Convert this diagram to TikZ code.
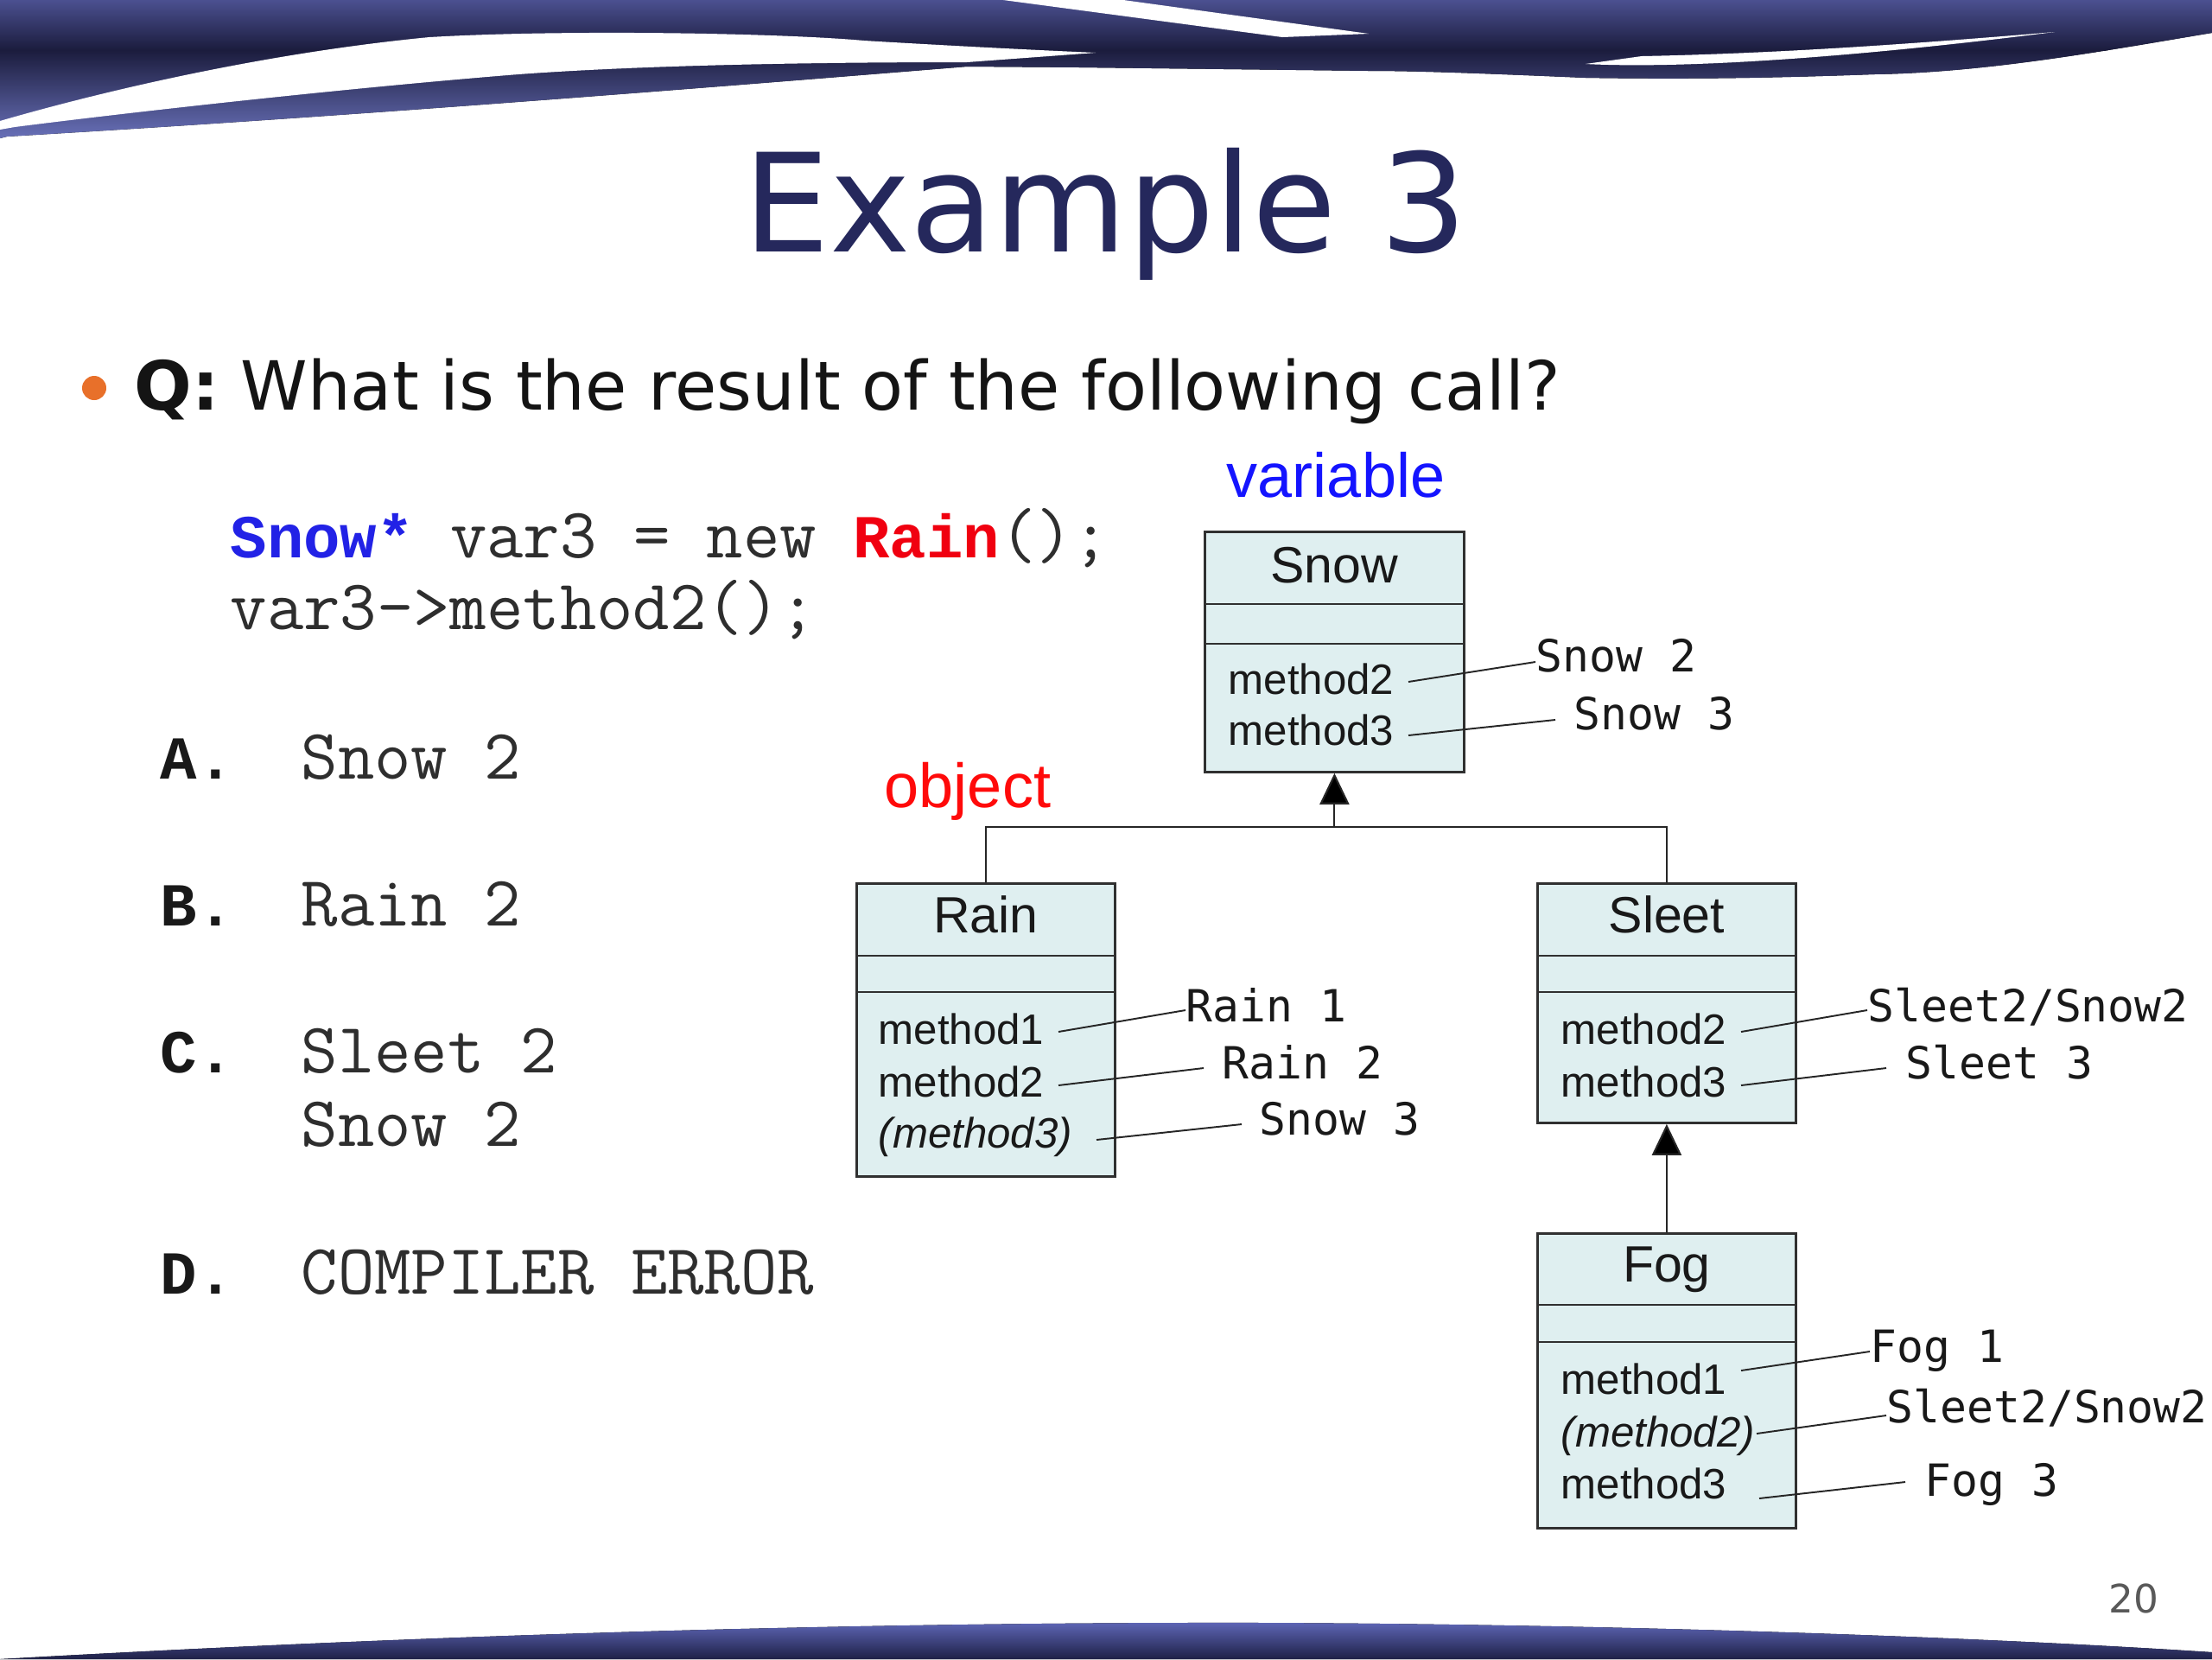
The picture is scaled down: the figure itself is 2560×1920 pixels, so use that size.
\documentclass[tikz,border=0pt]{standalone}
\usepackage{fontspec}
\setmainfont{Liberation Sans}
\newfontfamily\dejavu{DejaVu Sans}
\newfontfamily\dmono{DejaVu Sans Mono}
\newfontfamily\cour{Liberation Mono}
\usetikzlibrary{arrows.meta,calc}
\definecolor{navy}{HTML}{25285C}
\definecolor{bandtop}{HTML}{4B5090}
\definecolor{banddark}{HTML}{1B1C3D}
\definecolor{bandlow}{HTML}{6A72BB}
\definecolor{domelight}{HTML}{5E66B6}
\definecolor{domedark}{HTML}{1E2046}
\definecolor{boxfill}{HTML}{DFEFF0}
\definecolor{boxborder}{HTML}{303030}
\definecolor{bulletorange}{HTML}{E8702A}
\definecolor{snowblue}{HTML}{2222E6}
\definecolor{rainred}{HTML}{F00010}
\definecolor{varblue}{HTML}{1414FF}
\definecolor{objred}{HTML}{FF0A0A}
\definecolor{codegray}{HTML}{2E2E2E}
\newcommand{\cbold}[1]{{\cour\bfseries\fontsize{20.1}{24}\selectfont #1}}
\begin{document}
\begin{tikzpicture}[x=0.01cm,y=-0.01cm,
  umlbox/.style={draw=boxborder, fill=boxfill, line width=0.75pt, inner sep=0pt, anchor=north west, minimum width=2.99cm},
  divl/.style={draw=boxborder, line width=0.75pt},
  clsname/.style={font=\fontsize{16.8}{20}\selectfont, anchor=base, inner sep=0pt, text=black!90},
  meth/.style={font=\fontsize{14}{17}\selectfont, anchor=base west, inner sep=0pt, text=black!90},
  lab/.style={font=\dmono\fontsize{14.6}{17}\selectfont, anchor=base west, inner sep=0pt, text=black!90},
  lead/.style={draw=black!85, line width=0.55pt},
  inh/.style={draw=black!85, line width=0.6pt},
  inharrow/.style={inh, -{Triangle[width=0.34cm,length=0.36cm,fill=black]}},
  code/.style={font=\ttfamily\fontsize{23.4}{28}\selectfont, anchor=base west, inner sep=0pt, text=codegray},
  ans/.style={font=\ttfamily\fontsize{23.4}{28}\selectfont, anchor=base west, inner sep=0pt, text=codegray},
  ansl/.style={font=\cour\bfseries\fontsize{20.1}{24}\selectfont, anchor=base west, inner sep=0pt, text=black!90}
]
\useasboundingbox (0,0) rectangle (2560,1920);
\fill[white] (0,0) rectangle (2560,1920);

% ---- top banner ----
\begin{scope}
  \clip (0,0) -- (2560,0) -- (2560,38)
    .. controls (2440,58) and (2300,84) .. (2169,86)
    .. controls (2060,90) and (1960,92) .. (1835,90)
    .. controls (1740,86) and (1650,82) .. (1584,82)
    -- (1250,78) -- (1119,77)
    .. controls (800,103) and (400,135) .. (8,158)
    -- (0,160) -- cycle;
  \fill[top color=bandtop, bottom color=banddark] (0,0) rectangle (2560,58);
  \fill[top color=banddark, bottom color=bandlow] (0,58) rectangle (2560,162);
\end{scope}
\fill[white] (0,140) .. controls (110,108) and (300,62) .. (497,43)
  .. controls (650,34) and (900,38) .. (1000,47)
  .. controls (1100,53) and (1200,58) .. (1268,61)
  -- (1119,72)
  .. controls (950,72) and (750,75) .. (600,86)
  .. controls (400,102) and (150,130) .. (17,147)
  -- (0,150) -- cycle;
\fill[white] (1161,0) -- (1300,0) -- (1584,39) -- (1484,43) -- cycle;
\fill[white] (1835,74) .. controls (1950,80) and (2150,66) .. (2378,37)
  .. controls (2200,52) and (2050,62) .. (1900,65) -- cycle;

% ---- bottom banner ----
\fill[top color=domelight, bottom color=domedark]
  (0,1920) .. controls (600,1886) and (1100,1877) .. (1470,1878)
  .. controls (1900,1880) and (2300,1895) .. (2560,1912)
  -- (2560,1920) -- cycle;
\node[font=\dejavu\fontsize{12.9}{15}\selectfont, text=black!65, anchor=base, inner sep=0pt] (pagenum) at (2469,1866) {20};

% ---- title & question ----
\node[font=\dejavu\fontsize{45}{54}\selectfont, text=navy, anchor=base, inner sep=0pt] (title) at (1279,291) {Example 3};
\fill[bulletorange] (109,449) circle[radius=14];
\node[font=\dejavu\fontsize{22.3}{27}\selectfont, text=black!92, anchor=base west, inner sep=0pt] (question) at (155,474) {\textbf{Q:} What is the result of the following call?};

% ---- code ----
\node[code] (code1) at (266,645) {\textcolor{snowblue}{\cbold{Snow*}} var3 = new \textcolor{rainred}{\cbold{Rain}}();};
\node[code] (code2) at (266,728) {var3->method2();};

% ---- answers ----
\node[ansl] (la) at (185,901) {A.};
\node[ans] (ta) at (348,901) {Snow 2};
\node[ansl] (lb) at (185,1071) {B.};
\node[ans] (tb) at (348,1071) {Rain 2};
\node[ansl] (lc) at (185,1241) {C.};
\node[ans] (tc1) at (348,1241) {Sleet 2};
\node[ans] (tc2) at (348,1326) {Snow 2};
\node[ansl] (ld) at (185,1497) {D.};
\node[ans] (td) at (348,1497) {COMPILER ERROR};

% ---- variable / object ----
\node[font=\fontsize{20.5}{24}\selectfont, text=varblue, anchor=base, inner sep=0pt] (variable) at (1546,575) {variable};
\node[font=\fontsize{20.5}{24}\selectfont, text=objred, anchor=base, inner sep=0pt] (object) at (1120,934) {object};

% ---- Snow ----
\node[umlbox, minimum width=3cm, minimum height=2.78cm] (snow) at (1393,614) {};
\draw[divl] (snow.north west) ++(0,85) -- ++(300,0);
\draw[divl] (snow.north west) ++(0,131) -- ++(300,0);
\node[clsname] (snowname) at ([yshift=-0.6cm]snow.north) {Snow};
\node[meth] (snowm2) at (1421,803) {method2};
\node[meth] (snowm3) at (1421,862) {method3};
\node[lab] (snowl2) at (1777,777) {Snow 2};
\node[lab] (snowl3) at (1821,844) {Snow 3};
\coordinate (snowm2e) at (1630,789);
\coordinate (snowm3e) at (1630,851);
\draw[lead] (snowm2e) -- ($(snowl2.base west)+(0,-11)$);
\draw[lead] (snowm3e) -- ($(snowl3.base west)+(-21,-11)$);

% ---- Rain ----
\node[umlbox, minimum height=3.39cm] (rain) at (990,1021) {};
\draw[divl] (rain.north west) ++(0,85) -- ++(299,0);
\draw[divl] (rain.north west) ++(0,127) -- ++(299,0);
\node[clsname] (rainname) at ([yshift=-0.58cm]rain.north) {Rain};
\node[meth] (rainm1) at (1016,1208) {method1};
\node[meth] (rainm2) at (1016,1269) {method2};
\node[meth] (rainm3) at (1016,1328) {\itshape (method3)};
\node[lab] (rainl1) at (1372,1182) {Rain 1};
\node[lab] (rainl2) at (1414,1248) {Rain 2};
\node[lab] (rainl3) at (1457,1313) {Snow 3};
\coordinate (rainm1e) at (1225,1194);
\coordinate (rainm2e) at (1225,1256);
\coordinate (rainm3e) at (1269,1319);
\draw[lead] (rainm1e) -- ($(rainl1.base west)+(0,-13)$);
\draw[lead] (rainm2e) -- ($(rainl2.base west)+(-21,-12)$);
\draw[lead] (rainm3e) -- ($(rainl3.base west)+(-20,-12)$);

% ---- Sleet ----
\node[umlbox, minimum height=2.77cm] (sleet) at (1778,1021) {};
\draw[divl] (sleet.north west) ++(0,85) -- ++(299,0);
\draw[divl] (sleet.north west) ++(0,127) -- ++(299,0);
\node[clsname] (sleetname) at ([yshift=-0.58cm]sleet.north) {Sleet};
\node[meth] (sleetm2) at (1806,1208) {method2};
\node[meth] (sleetm3) at (1806,1269) {method3};
\node[lab] (sleetl2) at (2161,1182) {Sleet2/Snow2};
\node[lab] (sleetl3) at (2205,1248) {Sleet 3};
\coordinate (sleetm2e) at (2015,1194);
\coordinate (sleetm3e) at (2015,1256);
\draw[lead] (sleetm2e) -- ($(sleetl2.base west)+(0,-13)$);
\draw[lead] (sleetm3e) -- ($(sleetl3.base west)+(-22,-12)$);

% ---- Fog ----
\node[umlbox, minimum height=3.41cm] (fog) at (1778,1426) {};
\draw[divl] (fog.north west) ++(0,84) -- ++(299,0);
\draw[divl] (fog.north west) ++(0,127) -- ++(299,0);
\node[clsname] (fogname) at ([yshift=-0.57cm]fog.north) {Fog};
\node[meth] (fogm1) at (1806,1613) {method1};
\node[meth] (fogm2) at (1806,1674) {\itshape (method2)};
\node[meth] (fogm3) at (1806,1734) {method3};
\node[lab] (fogl1) at (2164,1576) {Fog 1};
\node[lab] (fogl2) at (2183,1646) {Sleet2/Snow2};
\node[lab] (fogl3) at (2227,1731) {Fog 3};
\coordinate (fogm1e) at (2015,1586);
\coordinate (fogm2e) at (2033,1659);
\coordinate (fogm3e) at (2036,1734);
\draw[lead] (fogm1e) -- ($(fogl1.base west)+(0,-12)$);
\draw[lead] (fogm2e) -- ($(fogl2.base west)+(0,-8)$);
\draw[lead] (fogm3e) -- ($(fogl3.base west)+(-22,-16)$);

% ---- inheritance ----
\coordinate (hub) at (snow.south |- 0,957);
\draw[inh] (rain.north) |- (hub) -| (sleet.north);
\draw[inharrow] (hub) -- (snow.south);
\draw[inharrow] (fog.north) -- (sleet.south);
\end{tikzpicture}
\end{document}
